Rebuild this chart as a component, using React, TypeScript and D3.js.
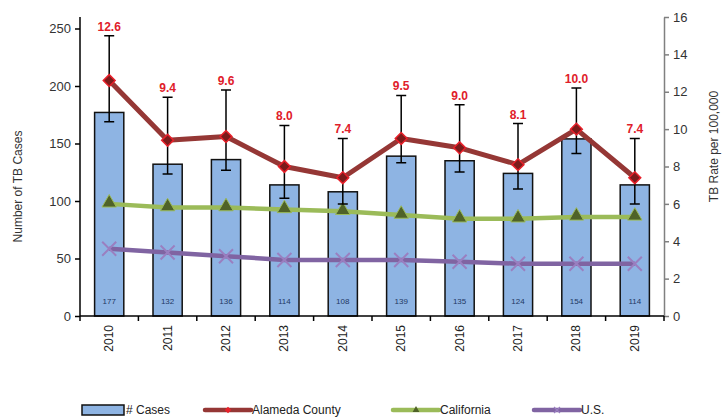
import { useRef, useEffect } from 'react';
import { select, scaleBand, scaleLinear, axisLeft, axisRight, line, symbol, symbolSquare, symbolTriangle } from 'd3';

const years = ['2010', '2011', '2012', '2013', '2014', '2015', '2016', '2017', '2018', '2019'];
const cases = [177, 132, 136, 114, 108, 139, 135, 124, 154, 114];
const alameda = [12.6, 9.4, 9.6, 8.0, 7.4, 9.5, 9.0, 8.1, 10.0, 7.4];
const alamedaLow = [10.4, 7.6, 7.8, 6.3, 6.0, 8.2, 7.7, 6.8, 8.7, 6.0];
const alamedaHigh = [15.0, 11.7, 12.1, 10.2, 9.5, 11.8, 11.3, 10.3, 12.2, 9.5];
const california = [6.0, 5.8, 5.8, 5.7, 5.6, 5.4, 5.2, 5.2, 5.3, 5.3];
const us = [3.6, 3.4, 3.2, 3.0, 3.0, 3.0, 2.9, 2.8, 2.8, 2.8];
const leftTicks = [0, 50, 100, 150, 200, 250];
const rightTicks = [0, 2, 4, 6, 8, 10, 12, 14, 16];

const FONT = '"Liberation Sans", Arial, sans-serif';

const xMark = (r: number) => `M${-r},${-r}L${r},${r}M${-r},${r}L${r},${-r}`;

export default function App() {
  const svgRef = useRef<SVGSVGElement>(null);

  useEffect(() => {
    if (!svgRef.current) return;
    const svg = select(svgRef.current);
    svg.selectAll('*').remove();

    const margin = { top: 17, left: 80, right: 61, bottom: 103 };
    const width = 725, height = 419;
    const innerW = width - margin.left - margin.right;
    const innerH = height - margin.top - margin.bottom;
    const g = svg.append('g').attr('transform', `translate(${margin.left},${margin.top})`);

    const x = scaleBand().domain(years).range([0, innerW]).paddingInner(0.5).paddingOuter(0.25);
    const xb = scaleBand().domain(years).range([0, innerW]);
    const yL = scaleLinear().domain([0, 260]).range([innerH, 0]);
    const yR = scaleLinear().domain([0, 16]).range([innerH, 0]);
    const cx = (i: number) => (xb(years[i]) ?? 0) + xb.bandwidth() / 2;

    // Bars
    g.selectAll('.bar').data(cases).join('rect')
      .attr('x', (_, i) => x(years[i]) ?? 0)
      .attr('width', x.bandwidth())
      .attr('y', d => yL(d))
      .attr('height', d => innerH - yL(d))
      .attr('fill', '#8EB4E3').attr('stroke', '#111').attr('stroke-width', 1.5);

    g.selectAll('.barlab').data(cases).join('text')
      .attr('x', (_, i) => cx(i)).attr('y', innerH - 12)
      .attr('text-anchor', 'middle').attr('fill', '#1F3864')
      .style('font-size', '8px').style('font-family', FONT)
      .text(d => d);

    // Left axis
    const la = g.append('g').call(axisLeft(yL).tickValues(leftTicks).tickSize(5).tickSizeOuter(0) as any);
    la.select('.domain').attr('stroke', '#000').attr('stroke-width', 1.5).attr('d', `M0,0V${innerH}`);
    la.selectAll('line').attr('stroke', '#000').attr('stroke-width', 1.5);
    la.selectAll('text').attr('fill', '#333').style('font-size', '13px').style('font-family', FONT).attr('x', -9);

    // Right axis
    const ra = g.append('g').attr('transform', `translate(${innerW},0)`)
      .call(axisRight(yR).tickValues(rightTicks).tickSize(5).tickSizeOuter(0) as any);
    ra.select('.domain').attr('stroke', '#808080').attr('stroke-width', 1.5);
    ra.selectAll('line').attr('stroke', '#808080').attr('stroke-width', 1.5);
    ra.selectAll('text').attr('fill', '#333').style('font-size', '13px').style('font-family', FONT).attr('x', 9);

    // Bottom axis
    g.append('line').attr('x1', 0).attr('x2', innerW).attr('y1', innerH).attr('y2', innerH)
      .attr('stroke', '#000').attr('stroke-width', 1.5);
    g.selectAll('.xtick').data(years.concat(['end'])).join('line')
      .attr('x1', (_, i) => i * xb.bandwidth()).attr('x2', (_, i) => i * xb.bandwidth())
      .attr('y1', innerH).attr('y2', innerH + 5).attr('stroke', '#000').attr('stroke-width', 1.5);
    g.selectAll('.xlab').data(years).join('text')
      .attr('transform', (_, i) => `translate(${cx(i) + 4},${innerH + 9}) rotate(-90)`)
      .attr('text-anchor', 'end').attr('fill', '#222')
      .style('font-size', '12px').style('font-family', FONT)
      .text(d => d);

    // Axis titles
    svg.append('text').attr('transform', `translate(22,${margin.top + innerH / 2 + 20}) rotate(-90)`)
      .attr('text-anchor', 'middle').attr('fill', '#333').style('font-size', '12px').style('font-family', FONT)
      .text('Number of TB Cases');
    svg.append('text').attr('transform', `translate(718,${margin.top + innerH / 2 - 20}) rotate(-90)`)
      .attr('text-anchor', 'middle').attr('fill', '#333').style('font-size', '12px').style('font-family', FONT)
      .text('TB Rate per 100,000');

    const mkLine = line<number>().x((_, i) => cx(i)).y(d => yR(d));

    // US
    g.append('path').datum(us).attr('d', mkLine).attr('fill', 'none')
      .attr('stroke', '#8064A2').attr('stroke-width', 4.5).attr('stroke-linejoin', 'round');
    g.selectAll('.usm').data(us).join('path')
      .attr('d', xMark(7))
      .attr('transform', (d, i) => `translate(${cx(i)},${yR(d)})`)
      .attr('fill', 'none').attr('stroke', '#9A7FC0').attr('stroke-width', 2);

    // California
    g.append('path').datum(california).attr('d', mkLine).attr('fill', 'none')
      .attr('stroke', '#9BBB59').attr('stroke-width', 4.5).attr('stroke-linejoin', 'round');
    g.selectAll('.cam').data(california).join('path')
      .attr('d', symbol(symbolTriangle, 90)())
      .attr('transform', (d, i) => `translate(${cx(i)},${yR(d) - 1})`)
      .attr('fill', '#4F6228').attr('stroke', '#9BBB59').attr('stroke-width', 1);

    // Error bars
    const cap = 5;
    alameda.forEach((_, i) => {
      const xx = cx(i);
      const t = yR(alamedaHigh[i]), b = yR(alamedaLow[i]);
      g.append('path').attr('d', `M${xx},${t}V${b}M${xx - cap},${t}H${xx + cap}M${xx - cap},${b}H${xx + cap}`)
        .attr('stroke', '#000').attr('stroke-width', 1.5).attr('fill', 'none');
    });

    // Alameda
    g.append('path').datum(alameda).attr('d', mkLine).attr('fill', 'none')
      .attr('stroke', '#953735').attr('stroke-width', 5).attr('stroke-linejoin', 'round');
    g.selectAll('.alm').data(alameda).join('path')
      .attr('d', symbol(symbolSquare, 70)())
      .attr('transform', (d, i) => `translate(${cx(i)},${yR(d)}) rotate(45)`)
      .attr('fill', '#7B1B1B').attr('stroke', '#E8202A').attr('stroke-width', 1.5);

    g.selectAll('.allab').data(alameda).join('text')
      .attr('x', (_, i) => cx(i)).attr('y', (_, i) => yR(alamedaHigh[i]) - 5)
      .attr('text-anchor', 'middle').attr('fill', '#E0202A').attr('font-weight', 'bold')
      .style('font-size', '12px').style('font-family', FONT)
      .text(d => d.toFixed(1));

    // Legend
    const ly = 410;
    const lg = svg.append('g').style('font-family', FONT).style('font-size', '12px');
    lg.append('rect').attr('x', 82).attr('y', ly - 5).attr('width', 42).attr('height', 10)
      .attr('fill', '#8EB4E3').attr('stroke', '#111').attr('stroke-width', 1.5);
    lg.append('text').attr('x', 126).attr('y', ly + 4).attr('fill', '#222').text('# Cases');

    const items = [
      { x: 205, name: 'Alameda County', color: '#953735' },
      { x: 393, name: 'California', color: '#9BBB59' },
      { x: 534, name: 'U.S.', color: '#8064A2' },
    ];
    items.forEach((it, k) => {
      lg.append('line').attr('x1', it.x).attr('x2', it.x + 46).attr('y1', ly).attr('y2', ly)
        .attr('stroke', it.color).attr('stroke-width', 4.5).attr('stroke-linecap', 'round');
      const sym = k === 0 ? symbol(symbolSquare, 22)() : k === 1 ? symbol(symbolTriangle, 20)() : xMark(3);
      lg.append('path').attr('d', sym)
        .attr('transform', `translate(${it.x + 23},${ly})${k === 0 ? ' rotate(45)' : ''}`)
        .attr('fill', k === 0 ? '#E8202A' : k === 1 ? '#4F6228' : 'none')
        .attr('stroke', k === 2 ? '#9A7FC0' : 'none').attr('stroke-width', 1.2);
      lg.append('text').attr('x', it.x + 47).attr('y', ly + 4).attr('fill', '#222').text(it.name);
    });
  }, []);

  return (
    <svg ref={svgRef} width={725} height={419}
      style={{ position: 'absolute', left: 0, top: 0, background: '#fff' }} />
  );
}
